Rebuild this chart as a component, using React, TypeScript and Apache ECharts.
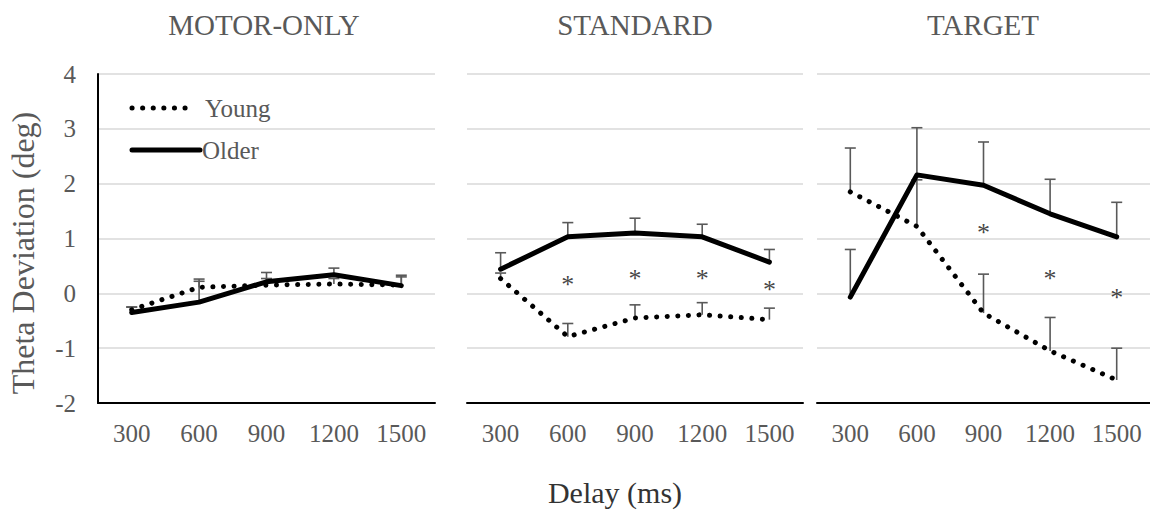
import React, { useEffect, useRef } from "react";
import * as echarts from "echarts";

const categories = ["300", "600", "900", "1200", "1500"];
const panelTitles = ["MOTOR-ONLY", "STANDARD", "TARGET"];
const legendNames = ["Young", "Older"];

// MOTOR-ONLY
const motorYoung = [-0.3, 0.11, 0.15, 0.17, 0.15];
const motorYoungErr = [0.05, 0.15, 0.12, 0.1, 0.15];
const motorOlder = [-0.35, -0.16, 0.21, 0.34, 0.14];
const motorOlderErr = [0.1, 0.38, 0.17, 0.12, 0.19];
const motorStars: number[][] = [];

// STANDARD
const standardYoung = [0.27, -0.79, -0.45, -0.39, -0.48];
const standardYoungErr = [0.1, 0.24, 0.24, 0.22, 0.21];
const standardOlder = [0.44, 1.03, 1.1, 1.03, 0.57];
const standardOlderErr = [0.3, 0.26, 0.27, 0.23, 0.23];
const standardStars = [
  [1, 0.21],
  [2, 0.33],
  [3, 0.33],
  [4, 0.12],
];

// TARGET
const targetYoung = [1.85, 1.22, -0.36, -1.05, -1.58];
const targetYoungErr = [0.8, 0.85, 0.71, 0.61, 0.58];
const targetOlder = [-0.07, 2.16, 1.97, 1.45, 1.03];
const targetOlderErr = [0.87, 0.86, 0.79, 0.63, 0.63];
const targetStars = [
  [2, 1.16],
  [3, 0.33],
  [4, -0.03],
];

const yMin = -2;
const yMax = 4;
const yInterval = 1;

const FONT = "'Liberation Serif', 'Times New Roman', serif";
const GRAY = "#595959";
const DOT_DASH = [0.1, 10.5];

const panels = [
  { young: motorYoung, youngErr: motorYoungErr, older: motorOlder, olderErr: motorOlderErr, stars: motorStars },
  { young: standardYoung, youngErr: standardYoungErr, older: standardOlder, olderErr: standardOlderErr, stars: standardStars },
  { young: targetYoung, youngErr: targetYoungErr, older: targetOlder, olderErr: targetOlderErr, stars: targetStars },
];

const gridLefts = [98, 467, 817];
const gridWidths = [337, 336, 336];
const titleCenters = [264, 635, 983];

function errRender(params: any, api: any) {
  const x = api.value(0);
  const y = api.value(1);
  const e = api.value(2);
  const p0 = api.coord([x, y]);
  const p1 = api.coord([x, y + e]);
  const style = { stroke: GRAY, lineWidth: 1.6 };
  return {
    type: "group",
    children: [
      { type: "line", shape: { x1: p0[0], y1: p0[1], x2: p1[0], y2: p1[1] }, style },
      { type: "line", shape: { x1: p1[0] - 5.5, y1: p1[1], x2: p1[0] + 5.5, y2: p1[1] }, style },
    ],
  };
}

export default function App() {
  const ref = useRef<HTMLDivElement>(null);

  useEffect(() => {
    if (!ref.current) return;
    const chart = echarts.init(ref.current, undefined, { renderer: "svg" });

    const grids = panels.map((_, i) => ({
      left: gridLefts[i],
      top: 74,
      width: gridWidths[i],
      height: 329,
      containLabel: false,
    }));

    const xAxes = panels.map((_, i) => ({
      type: "category",
      gridIndex: i,
      data: categories,
      boundaryGap: true,
      axisLine: { show: true, onZero: false, lineStyle: { color: "#000", width: 2 } },
      axisTick: { show: false },
      axisLabel: { color: GRAY, fontSize: 25, fontFamily: FONT, margin: 18 },
      splitLine: { show: false },
    }));

    const yAxes = panels.map((_, i) => ({
      type: "value",
      gridIndex: i,
      min: yMin,
      max: yMax,
      interval: yInterval,
      axisLine: { show: i === 0, onZero: false, lineStyle: { color: "#000", width: 2 } },
      axisTick: { show: false },
      axisLabel: { show: i === 0, color: GRAY, fontSize: 25, fontFamily: FONT, margin: 22 },
      splitLine: { show: true, lineStyle: { color: "#d9d9d9", width: 1.6 } },
    }));

    const series: any[] = [];
    panels.forEach((p, i) => {
      series.push({
        type: "custom",
        name: "YoungErr",
        xAxisIndex: i,
        yAxisIndex: i,
        renderItem: errRender,
        data: p.young.map((v, k) => [k, v, p.youngErr[k]]),
        z: 1,
      });
      series.push({
        type: "custom",
        name: "OlderErr",
        xAxisIndex: i,
        yAxisIndex: i,
        renderItem: errRender,
        data: p.older.map((v, k) => [k, v, p.olderErr[k]]),
        z: 1,
      });
      series.push({
        type: "line",
        name: legendNames[0],
        xAxisIndex: i,
        yAxisIndex: i,
        data: p.young,
        symbol: "none",
        lineStyle: { color: "#000", width: 5, type: DOT_DASH, cap: "round" },
        itemStyle: { color: "#000" },
        z: 3,
      });
      series.push({
        type: "line",
        name: legendNames[1],
        xAxisIndex: i,
        yAxisIndex: i,
        data: p.older,
        symbol: "none",
        lineStyle: { color: "#000", width: 5, join: "round", cap: "round" },
        itemStyle: { color: "#000" },
        z: 3,
      });
      if (p.stars.length) {
        series.push({
          type: "scatter",
          name: "Significance",
          xAxisIndex: i,
          yAxisIndex: i,
          data: p.stars,
          symbol: "circle",
          symbolSize: 1,
          itemStyle: { color: "rgba(0,0,0,0)" },
          label: {
            show: true,
            position: "inside",
            formatter: "*",
            color: "#111",
            textBorderWidth: 0,
            fontSize: 26,
            fontFamily: FONT,
            offset: [0, 3],
          },
          z: 4,
        });
      }
    });

    const graphics: any[] = panelTitles.map((t, i) => ({
      type: "text",
      x: titleCenters[i],
      y: 25,
      style: {
        text: t,
        fontSize: 29,
        fontFamily: FONT,
        fill: GRAY,
        textAlign: "center",
        textVerticalAlign: "middle",
      },
    }));
    graphics.push({
      type: "text",
      x: 23,
      y: 253,
      rotation: Math.PI / 2,
      style: {
        text: "Theta Deviation (deg)",
        fontSize: 32,
        fontFamily: FONT,
        fill: GRAY,
        textAlign: "center",
        textVerticalAlign: "middle",
      },
    });
    graphics.push({
      type: "text",
      x: 615,
      y: 492,
      style: {
        text: "Delay (ms)",
        fontSize: 30,
        fontFamily: FONT,
        fill: "#333",
        textAlign: "center",
        textVerticalAlign: "middle",
      },
    });
    // legend (drawn manually to match the original key)
    graphics.push({
      type: "line",
      shape: { x1: 132, y1: 108, x2: 194, y2: 108 },
      style: { stroke: "#000", lineWidth: 5, lineDash: DOT_DASH, lineCap: "round" },
    });
    graphics.push({
      type: "text",
      x: 205,
      y: 108,
      style: { text: legendNames[0], fontSize: 25, fontFamily: FONT, fill: GRAY, textVerticalAlign: "middle" },
    });
    graphics.push({
      type: "line",
      shape: { x1: 132, y1: 150, x2: 200, y2: 150 },
      style: { stroke: "#000", lineWidth: 5, lineCap: "round" },
    });
    graphics.push({
      type: "text",
      x: 202,
      y: 150,
      style: { text: legendNames[1], fontSize: 25, fontFamily: FONT, fill: GRAY, textVerticalAlign: "middle" },
    });

    chart.setOption({
      animation: false,
      backgroundColor: "#fff",
      grid: grids,
      xAxis: xAxes,
      yAxis: yAxes,
      graphic: graphics,
      series,
    });

    return () => chart.dispose();
  }, []);

  return (
    <div
      ref={ref}
      style={{ position: "absolute", left: 0, top: 0, width: 1150, height: 512, background: "#fff" }}
    />
  );
}
